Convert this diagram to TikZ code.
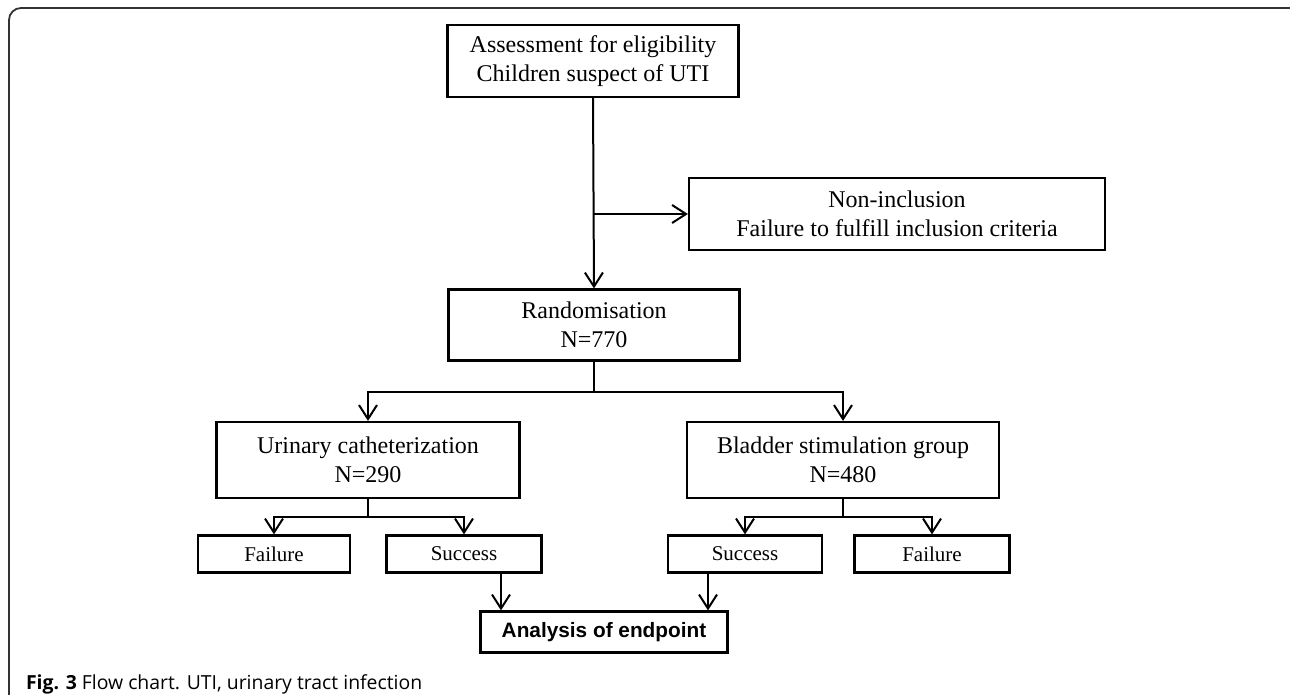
\documentclass[tikz,border=0pt]{standalone}
\usepackage{fontspec}
\setmainfont{Liberation Serif}
\setsansfont{Liberation Sans}
\newfontfamily\capfont{Open Sans}
\usetikzlibrary{arrows.meta}
\begin{document}
\begin{tikzpicture}[x=0.5pt, y=-0.5pt, line width=1pt,
  fbox/.style={draw,line width=1.1pt,inner sep=0pt,align=center,font=\fontsize{12}{14.5}\selectfont},
  sbox/.style={draw,line width=1.1pt,inner sep=0pt,minimum height=18.5pt,font=\fontsize{10.5}{12}\selectfont},
  arr/.style={-{Straight Barb[length=7pt,width=9pt]}}]
\useasboundingbox (0,0) rectangle (1290,695);
% outer frame
\draw[line width=0.9pt,black!80,rounded corners=6pt] (9,700) -- (9,8) -- (1295,8);
% top part
\node[fbox,minimum width=145.5pt,minimum height=36pt] (elig) at (593,61) {Assessment for eligibility\\Children suspect of UTI};
\node[fbox,minimum width=208pt,minimum height=36pt] (nonincl) at (897,214) {Non-inclusion\\Failure to fulfill inclusion criteria};
\node[fbox,minimum width=145.5pt,minimum height=35.5pt] (rand) at (594,325) {Randomisation\\N=770};
\draw[arr] (elig.south) -- (rand.north);
\coordinate (b0) at (elig.south |- nonincl.west);
\draw[arr] (b0) -- (nonincl.west);
% two groups
\node[fbox,minimum width=151.5pt,minimum height=38pt] (uc) at (368,460) {Urinary catheterization\\N=290};
\node[fbox,minimum width=156pt,minimum height=38pt] (bs) at (843,460) {Bladder stimulation group\\N=480};
\coordinate (j0) at (594,392);
\draw (rand.south) -- (j0);
\draw[arr] (j0) -| (uc.north);
\draw[arr] (j0) -| (bs.north);
% outcomes
\node[sbox,minimum width=76pt] (fail1) at (274,554) {Failure};
\node[sbox,minimum width=77.5pt] (succ1) at (464,554) {Success};
\node[sbox,minimum width=77pt] (succ2) at (745,554) {Success};
\node[sbox,minimum width=77.5pt] (fail2) at (932,554) {Failure};
\coordinate (j1) at (368,517);
\coordinate (j2) at (843,517);
\draw (uc.south) -- (j1);
\draw[arr] (j1) -| (fail1.north);
\draw[arr] (j1) -| (succ1.north);
\draw (bs.south) -- (j2);
\draw[arr] (j2) -| (succ2.north);
\draw[arr] (j2) -| (fail2.north);
% endpoint
\node[draw,line width=1.1pt,minimum width=123.5pt,minimum height=20.5pt,inner sep=0pt,font=\sffamily\bfseries\fontsize{10.4}{12}\selectfont] (anal) at (604,632) {Analysis of endpoint};
\coordinate (s1) at ([xshift=18.5pt]succ1.south);
\coordinate (s2) at ([xshift=-18.5pt]succ2.south);
\draw[arr] (s1) -- (s1 |- anal.north);
\draw[arr] (s2) -- (s2 |- anal.north);
% caption
\node[anchor=base west,inner sep=0pt,font=\capfont\fontsize{9.7}{11}\selectfont] (cap) at (25,689) {\textbf{Fig. 3} Flow chart. UTI, urinary tract infection};
\end{tikzpicture}
\end{document}
